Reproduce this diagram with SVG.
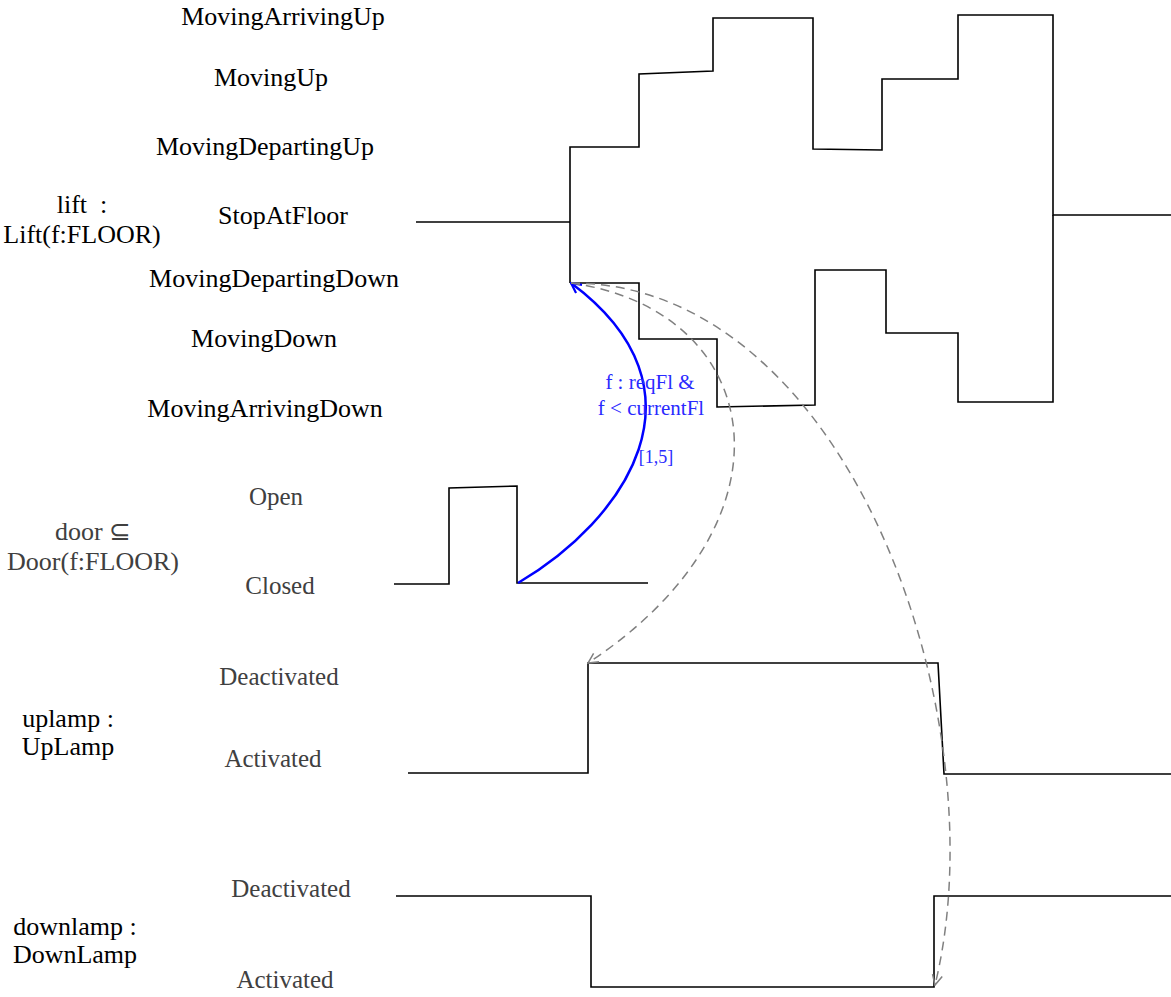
<svg xmlns="http://www.w3.org/2000/svg" width="1171" height="997" viewBox="0 0 1171 997">
  <style>
    .lbl { font-family: "Liberation Serif", "Times New Roman", serif; font-size: 26px; fill: #000; }
    .st { font-family: "Liberation Serif", "Times New Roman", serif; font-size: 25px; fill: #404040; }
    .grey { fill: #404040; }
    .wave { fill: none; stroke: #000; stroke-width: 1.6; stroke-linejoin: miter; }
    .dep { fill: none; stroke: #808080; stroke-width: 1.5; stroke-dasharray: 9 6; }
    .cause { fill: none; stroke: #0000ff; stroke-width: 2.5; }
    .ctext { font-family: "Liberation Serif", "Times New Roman", serif; font-size: 21px; fill: #2a2aff; }
  </style>
  <defs>
    <marker id="openBlue" viewBox="0 0 12 12" refX="11" refY="6" markerWidth="12" markerHeight="12" markerUnits="userSpaceOnUse" orient="auto">
      <path d="M1,1 L11,6 L1,11" fill="none" stroke="#0000ff" stroke-width="2.2"/>
    </marker>
    <marker id="openGrey" viewBox="0 0 12 12" refX="11" refY="6" markerWidth="12" markerHeight="12" markerUnits="userSpaceOnUse" orient="auto">
      <path d="M1,1 L11,6 L1,11" fill="none" stroke="#808080" stroke-width="1.5"/>
    </marker>
  </defs>

  <!-- lift lifeline -->
  <g id="lift">
    <text class="lbl" x="82" y="213" text-anchor="middle">lift&#160; :</text>
    <text class="lbl" x="82" y="243" text-anchor="middle">Lift(f:FLOOR)</text>
    <text class="lbl" x="283" y="25" text-anchor="middle">MovingArrivingUp</text>
    <text class="lbl" x="271" y="86" text-anchor="middle">MovingUp</text>
    <text class="lbl" x="265" y="155" text-anchor="middle">MovingDepartingUp</text>
    <text class="lbl" x="283" y="224" text-anchor="middle">StopAtFloor</text>
    <text class="lbl" x="274" y="287" text-anchor="middle">MovingDepartingDown</text>
    <text class="lbl" x="264" y="347" text-anchor="middle">MovingDown</text>
    <text class="lbl" x="265" y="417" text-anchor="middle">MovingArrivingDown</text>
    <path class="wave" d="M416,222 L570,222"/>
    <path class="wave" d="M570,283 L570,147 L639,147 L639,74 L713,71 L713,18 L813,18 L813,149 L882,150 L882,79 L958,79 L958,15 L1053,15 L1053,215 L1171,215"/>
    <path class="wave" d="M570,283 L639,283 L639,339 L717,339 L717,407 L815,405 L815,270 L886,270 L886,333 L958,333 L958,402 L1053,402 L1053,215"/>
  </g>

  <!-- door lifeline -->
  <g id="door">
    <text class="lbl grey" x="93" y="540" text-anchor="middle">door ⊆</text>
    <text class="lbl grey" x="93" y="570" text-anchor="middle">Door(f:FLOOR)</text>
    <text class="st" x="276" y="505" text-anchor="middle">Open</text>
    <text class="st" x="280" y="594" text-anchor="middle">Closed</text>
    <path class="wave" d="M394,584 L449,584 L449,488 L517,486 L517,583 L648,583"/>
  </g>

  <!-- up lamp lifeline -->
  <g id="uplamp">
    <text class="lbl" x="68" y="727" text-anchor="middle">uplamp :</text>
    <text class="lbl" x="68" y="755" text-anchor="middle">UpLamp</text>
    <text class="st" x="279" y="685" text-anchor="middle">Deactivated</text>
    <text class="st" x="273" y="767" text-anchor="middle">Activated</text>
    <path class="wave" d="M408,773 L588,773 L588,663 L938,663 L944,774 L1171,774"/>
  </g>

  <!-- down lamp lifeline -->
  <g id="downlamp">
    <text class="lbl" x="75" y="935" text-anchor="middle">downlamp :</text>
    <text class="lbl" x="75" y="963" text-anchor="middle">DownLamp</text>
    <text class="st" x="291" y="897" text-anchor="middle">Deactivated</text>
    <text class="st" x="285" y="988" text-anchor="middle">Activated</text>
    <path class="wave" d="M396,896 L591,896 L591,987 L934,987 L934,896 L1171,896"/>
  </g>

  <!-- timing constraints and dependencies -->
  <g id="connectors">
    <path class="cause" d="M518,583 C625,520 715,390 571,283" marker-end="url(#openBlue)"/>
    <text class="ctext" x="650" y="389" text-anchor="middle">f : reqFl &amp;</text>
    <text class="ctext" x="651" y="415" text-anchor="middle">f &lt; currentFl</text>
    <text class="ctext" x="656" y="463" text-anchor="middle" style="font-size:18px">[1,5]</text>
    <path class="dep" d="M571,283 C765,310 805,520 588,663" marker-end="url(#openGrey)"/>
    <path class="dep" d="M571,283 C850,283 1000,720 935,985" marker-end="url(#openGrey)"/>
  </g>
</svg>
